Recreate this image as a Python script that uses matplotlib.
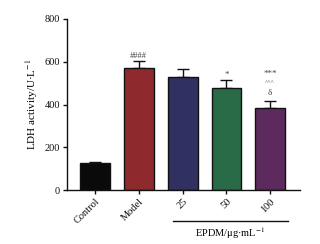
import matplotlib
matplotlib.use("Agg")
import matplotlib.pyplot as plt

categories = ["Control", "Model", "25", "50", "100"]
values = [125, 572, 530, 476, 382]
errors = [6, 33, 36, 40, 34]
colors = ["#0a0a0a", "#8E2A2E", "#303062", "#2A6B47", "#5C2A5C"]
yticks = [0, 200, 400, 600, 800]

plt.rcParams['font.family'] = ['Liberation Serif', 'DejaVu Serif']
plt.rcParams['mathtext.fontset'] = 'stix'
fig = plt.figure(figsize=(3.2, 2.44), dpi=100)
ax = fig.add_axes([67/320, 1-190/244, (300-67)/320, (190-19)/244])

x = list(range(len(categories)))
ax.bar(x, values, width=0.68, color=colors, edgecolor="#111111", linewidth=1.0, zorder=2)
ax.errorbar(x, values, yerr=[[0]*len(errors), errors], fmt="none", ecolor="#111111",
            elinewidth=1.0, capsize=4, capthick=1.0, zorder=1)

ax.text(1, values[1] + errors[1] + 5, "####", ha="center", va="bottom", fontsize=6, color="#444444")
ax.text(3, values[3] + errors[3] + 5, "*", ha="center", va="bottom", fontsize=6.5, color="#444444")
ax.text(4, 452, "δ", ha="center", va="center", fontsize=6.5, color="#444444")
ax.text(4, 503, "^^^", ha="center", va="center", fontsize=5, color="#555555")
ax.text(4, 545, "***", ha="center", va="center", fontsize=6.5, color="#444444")

ax.set_xlim(-0.64, 4.68)
ax.set_ylim(0, 800)
ax.set_yticks(yticks)
ax.set_yticklabels([str(t) for t in yticks], fontsize=7.5)
ax.set_xticks(x)
ax.set_xticklabels(categories, rotation=45, ha="right", rotation_mode="anchor", fontsize=7.5)
ax.tick_params(axis="both", direction="out", length=3, width=1.0, colors="#111111", pad=2)
for s in ["top", "right"]:
    ax.spines[s].set_visible(False)
for s in ["left", "bottom"]:
    ax.spines[s].set_linewidth(1.0)
    ax.spines[s].set_color("#111111")
ax.set_ylabel("LDH activity/U·L$^{-1}$", fontsize=8, labelpad=3)

ax.plot([1.77, 4.41], [-144, -144], color="#111111", linewidth=1.0, clip_on=False)
ax.text(3.09, -165, "EPDM/μg·mL$^{-1}$", ha="center", va="top", fontsize=7.5)

fig.savefig("out.png", dpi=100)
